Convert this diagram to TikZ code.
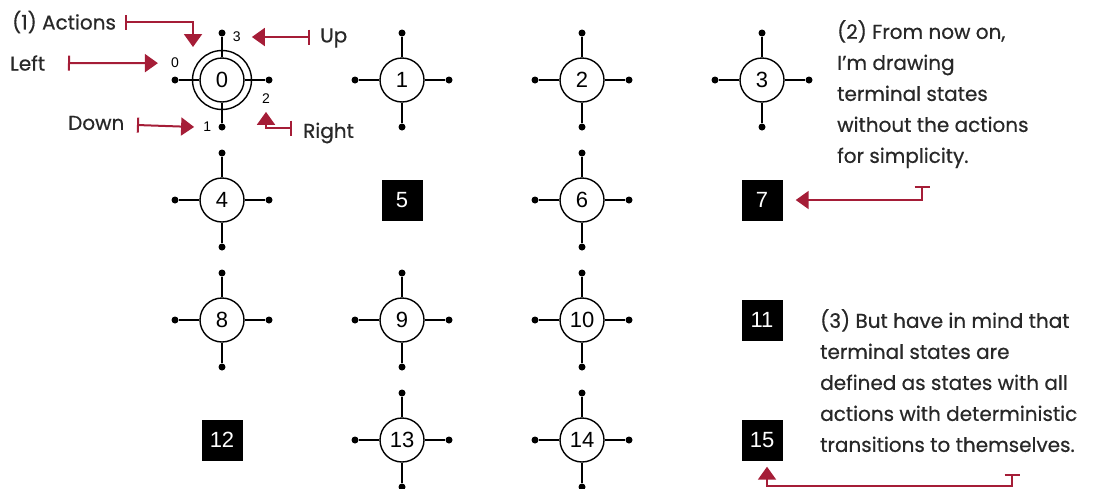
\documentclass[tikz,border=0pt]{standalone}
\usepackage{fontspec}
\setmainfont{Liberation Sans}
\newfontfamily\handfont[FakeBold=0.6]{Poppins}
\usetikzlibrary{arrows.meta, positioning, calc}

\definecolor{calloutred}{RGB}{165,29,55}
\definecolor{handink}{RGB}{40,40,40}

\tikzset{
  state/.style={circle, draw, line width=1.4pt, fill=white, minimum size=44pt, inner sep=0pt, font=\fontsize{22}{22}\selectfont},
  terminal/.style={rectangle, fill=black, text=white, minimum size=41pt, inner sep=0pt, font=\fontsize{22}{22}\selectfont},
  spoke/.style={line width=1.9pt},
  actdot/.style={circle, fill=black, minimum size=7pt, inner sep=0pt},
  actnum/.style={inner sep=1pt, font=\fontsize{14}{14}\selectfont},
  hand/.style={inner sep=0pt, text=handink, font=\handfont\fontsize{20}{31}\selectfont},
  callout/.style={draw=calloutred, line width=2pt, {Bar[width=15pt]}-{Triangle[length=13pt, width=18pt]}},
}

\begin{document}
\begin{tikzpicture}[x=1pt, y=-1pt]
\useasboundingbox (0,0) rectangle (1106,488);

% states that still have their four actions
\foreach \n/\c/\r in {0/0/0, 1/1/0, 2/2/0, 3/3/0, 4/0/1, 6/2/1, 8/0/2, 9/1/2, 10/2/2, 13/1/3, 14/2/3} {
  \node[state] (s\n) at (222+180*\c, 80+120*\r) {\n};
  \foreach \a/\dx/\dy in {0/-47/0, 1/0/47, 2/47/0, 3/0/-47} {
    \node[actdot] (s\n a\a) at ($(s\n)+(\dx,\dy)$) {};
    \draw[spoke] (s\n) -- (s\n a\a);
  }
}
\draw[line width=1.4pt] (s0.center) circle[radius=29.5pt];

% terminal states
\foreach \n/\c/\r in {5/1/1, 7/3/1, 11/3/2, 12/0/3, 15/3/3}
  \node[terminal] (s\n) at (222+180*\c, 80+120*\r) {\n};

% action numbers of state 0
\node[actnum, above=7pt of s0a0] (lab0) {0};
\node[actnum, left=6pt of s0a1] (lab1) {1};
\node[actnum, below=9pt of s0a2, xshift=-3pt] (lab2) {2};
\node[actnum, right=6pt of s0a3, yshift=-4pt] (lab3) {3};

% callouts
\node[hand, anchor=west] (actions) at (12,22) {(1) Actions};
\node[hand, anchor=west] (left) at (10,63) {Left};
\node[hand, anchor=west] (down) at (68,123) {Down};
\node[hand, anchor=west] (up) at (320,38) {Up};
\node[hand, anchor=west] (right) at (303,133) {Right};

\coordinate (actsrc) at (125,22);
\coordinate (acttip) at (193,47);
\coordinate (leftsrc) at (68,63);
\coordinate (downsrc) at (137,125);
\coordinate (upsrc) at (310,37);
\coordinate (rightsrc) at (292,128);

\draw[callout] (actsrc) -| (acttip);
\draw[callout] (leftsrc) -- ([xshift=-12pt]lab0.west);
\draw[callout] (downsrc) -- ([xshift=-8pt]lab1.west);
\draw[callout] (upsrc) -- ([xshift=10pt]lab3.east);
\draw[callout] (rightsrc) -| ([yshift=-7pt]lab2.south);

% notes
\node[hand, anchor=north west, align=left] (note2) at (837,20)
  {(2) From now on,\\ I’m drawing\\ terminal states\\ without the actions\\ for simplicity.};
\node[hand, anchor=north west, align=left] (note3) at (820,309)
  {(3) But have in mind that\\ terminal states are\\ defined as states with all\\ actions with deterministic\\ transitions to themselves.};

\coordinate (note2src) at (922,186);
\coordinate (note3src) at (1012,474);
\draw[callout] (note2src) |- ([xshift=13pt]s7.east);
\draw[callout] (note3src) -- ++(0,12) -| ([xshift=5pt, yshift=-6pt]s15.south);
\end{tikzpicture}
\end{document}
